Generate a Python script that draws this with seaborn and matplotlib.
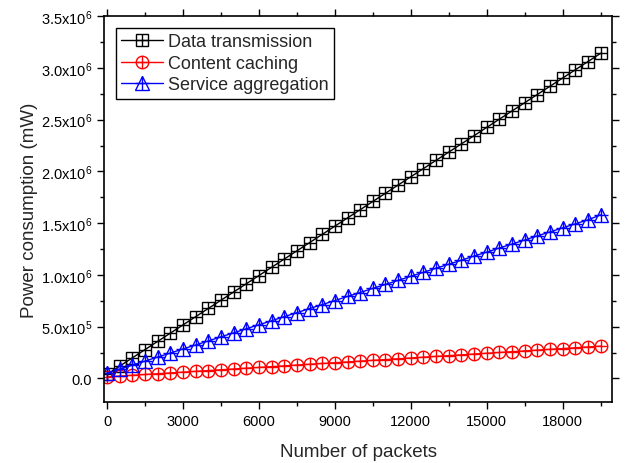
import matplotlib
matplotlib.use('Agg')
import matplotlib.pyplot as plt
from matplotlib.lines import Line2D
from matplotlib.ticker import MultipleLocator, FuncFormatter
import numpy as np
import pandas as pd
import seaborn as sns

sns.set_style("ticks")
plt.rcParams['font.family'] = ['Liberation Sans', 'DejaVu Sans']
plt.rcParams['mathtext.default'] = 'regular'

# 数据
packets = list(range(0, 20000, 500))
data_transmission = [40000, 119500, 199000, 278500, 358000, 437500, 517000, 596500,
                     676000, 755500, 835000, 914500, 994000, 1073500, 1153000, 1232500,
                     1312000, 1391500, 1471000, 1550500, 1630000, 1709500, 1789000, 1868500,
                     1948000, 2027500, 2107000, 2186500, 2266000, 2345500, 2425000, 2504500,
                     2584000, 2663500, 2743000, 2822500, 2902000, 2981500, 3061000, 3140500]
content_caching = [15000, 22600, 30200, 37800, 45400, 53000, 60600, 68200,
                   75800, 83400, 91000, 98600, 106200, 113800, 121400, 129000,
                   136600, 144200, 151800, 159400, 167000, 174600, 182200, 189800,
                   197400, 205000, 212600, 220200, 227800, 235400, 243000, 250600,
                   258200, 265800, 273400, 281000, 288600, 296200, 303800, 311400]
service_aggregation = [50000, 90000, 128000, 167000, 207000, 245000, 285000, 323000,
                       362000, 402000, 440000, 480000, 518000, 557000, 597000, 635000,
                       675000, 713000, 752000, 792000, 830000, 870000, 908000, 947000,
                       987000, 1025000, 1065000, 1103000, 1142000, 1182000, 1220000, 1260000,
                       1298000, 1337000, 1377000, 1415000, 1455000, 1493000, 1532000, 1580000]

series = [
    ('Data transmission', data_transmission, 'black', 's', 8),
    ('Content caching', content_caching, 'red', 'o', 9),
    ('Service aggregation', service_aggregation, 'blue', '^', 10),
]

fig = plt.figure(figsize=(6.27, 4.64), dpi=100)
ax = fig.add_axes([0.166, 0.131, 0.81, 0.832])

handles = []
for name, vals, color, mk, ms in series:
    df = pd.DataFrame({'x': packets, 'y': vals})
    sns.lineplot(data=df, x='x', y='y', ax=ax, color=color, linewidth=1,
                 marker=mk, markersize=ms, markerfacecolor='none',
                 markeredgecolor=color, markeredgewidth=1)
    ax.plot(packets, vals, linestyle='none', marker='+', markersize=ms,
            color=color, markeredgewidth=1)
    h1 = Line2D([], [], color=color, linewidth=1, marker=mk, markersize=ms,
                markerfacecolor='none', markeredgecolor=color)
    h2 = Line2D([], [], linestyle='none', marker='+', markersize=ms, color=color)
    handles.append((h1, h2))

ax.set_xlim(-120, 19950)
ax.set_ylim(-2.3e5, 3.5e6)
ax.xaxis.set_major_locator(MultipleLocator(3000))
ax.xaxis.set_minor_locator(MultipleLocator(1500))
ax.yaxis.set_major_locator(MultipleLocator(5e5))
ax.yaxis.set_minor_locator(MultipleLocator(2.5e5))


def fmt(v, pos):
    if abs(v) < 1:
        return '0.0'
    e = int(np.floor(np.log10(abs(v))))
    m = v / 10 ** e
    return f'{m:.1f}x10$^{{{e}}}$'


ax.yaxis.set_major_formatter(FuncFormatter(fmt))
ax.tick_params(which='both', direction='out', top=True, right=True,
               labelsize=10.5, colors='black')
ax.tick_params(which='major', length=5, width=1)
ax.tick_params(which='minor', length=3, width=1)
for s in ax.spines.values():
    s.set_linewidth(1.2)
    s.set_color('black')

ax.set_xlabel('Number of packets', fontsize=13.5, labelpad=11)
ax.set_ylabel('Power consumption (mW)', fontsize=13.5, labelpad=2)

leg = ax.legend(handles, [s[0] for s in series], loc='upper left',
                fontsize=13, frameon=True, fancybox=False, edgecolor='black',
                framealpha=1, borderpad=0.3, labelspacing=0.25,
                handlelength=2.3, handletextpad=0.28, borderaxespad=0.65)
leg.get_frame().set_linewidth(1)

fig.savefig('out.png', dpi=100)
